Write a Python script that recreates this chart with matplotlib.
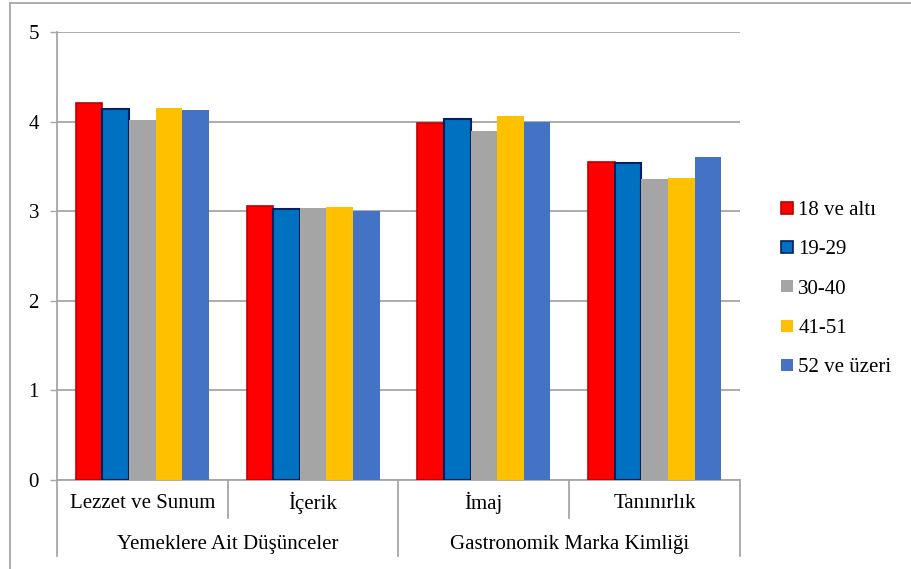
import numpy as np
import matplotlib
matplotlib.use("Agg")
import matplotlib.pyplot as plt
from matplotlib.lines import Line2D
from matplotlib.transforms import blended_transform_factory

plt.rcParams['font.family'] = ['Liberation Serif', 'DejaVu Serif']

# mean scores per item, one list per age group
categories = ["Lezzet ve Sunum", "İçerik", "İmaj", "Tanınırlık"]
groups = ["Yemeklere Ait Düşünceler", "Gastronomik Marka Kimliği"]
age_labels = ["18 ve altı", "19-29", "30-40", "41-51", "52 ve üzeri"]
s_18 = [4.21, 3.06, 3.98, 3.55]
s_19 = [4.14, 3.03, 4.03, 3.54]
s_30 = [4.02, 3.04, 3.89, 3.36]
s_41 = [4.15, 3.05, 4.06, 3.37]
s_52 = [4.13, 3.00, 4.00, 3.60]
series = [s_18, s_19, s_30, s_41, s_52]

face = ["#FF0000", "#0070C0", "#A5A5A5", "#FFC000", "#4472C4"]
edge = ["#C00000", "#002060", "#A5A5A5", "#FFC000", "#4472C4"]
edge_w = [1.2, 1.5, 0, 0, 0]

W, H = 912, 569
fig = plt.figure(figsize=(W / 100, H / 100), dpi=100)
ax = fig.add_axes([57 / W, (H - 480) / H, (740 - 57) / W, (480 - 32) / H])

fs = 15
grid_c = "#A6A6A6"
x = np.arange(len(categories))
bw = 0.156
for j, vals in enumerate(series):
    ax.bar(x + (j - 2) * bw, vals, bw, color=face[j], edgecolor=edge[j],
           linewidth=edge_w[j], label=age_labels[j], zorder=3)

ax.set_xlim(-0.5, 3.5)
ax.set_ylim(0, 5)
ax.set_yticks(range(6))
ax.yaxis.grid(True, color=grid_c, linewidth=1.3, zorder=0)
ax.tick_params(axis='y', length=5, width=1, color=grid_c, labelsize=fs, pad=8)
ax.set_xticks([])
for side in ("top", "right"):
    ax.spines[side].set_visible(False)
for side in ("left", "bottom"):
    ax.spines[side].set_color(grid_c)
    ax.spines[side].set_linewidth(1.3)

# two-level category axis drawn below the plot
tr = blended_transform_factory(ax.transData, ax.transAxes)
row1 = -(518 - 480) / 448
row2 = -(556 - 480) / 448
for xs in (0.5, 2.5):
    ax.add_line(Line2D([xs, xs], [0, row1], transform=tr, color=grid_c,
                       linewidth=1.3, clip_on=False))
for xs in (-0.5, 1.5, 3.5):
    ax.add_line(Line2D([xs, xs], [0, row2], transform=tr, color=grid_c,
                       linewidth=1.3, clip_on=False))
for i, name in enumerate(categories):
    ax.text(i, -(503 - 480) / 448, name, transform=tr, ha='center',
            va='center', fontsize=fs)
for k, name in enumerate(groups):
    ax.text(2 * k + 0.5, -(545 - 480) / 448, name, transform=tr, ha='center',
            va='center', fontsize=fs)

handles = [Line2D([], [], linestyle='none', marker='s', markersize=8.5,
                  markerfacecolor=face[j], markeredgecolor=edge[j],
                  markeredgewidth=1.2 if edge_w[j] else 0)
           for j in range(len(age_labels))]
fig.legend(handles, age_labels, loc='upper left',
           bbox_to_anchor=(768 / W, (H - 190) / H), frameon=False,
           fontsize=fs, handlelength=0.8, handletextpad=0.15,
           labelspacing=0.95, borderpad=0)

# outer chart frame
fig.add_artist(Line2D([10 / W, 10 / W], [0, (H - 3) / H], color=grid_c,
                      linewidth=1.3))
fig.add_artist(Line2D([10 / W, 1], [(H - 3) / H, (H - 3) / H], color=grid_c,
                      linewidth=1.3))

fig.savefig("out.png", dpi=100)
